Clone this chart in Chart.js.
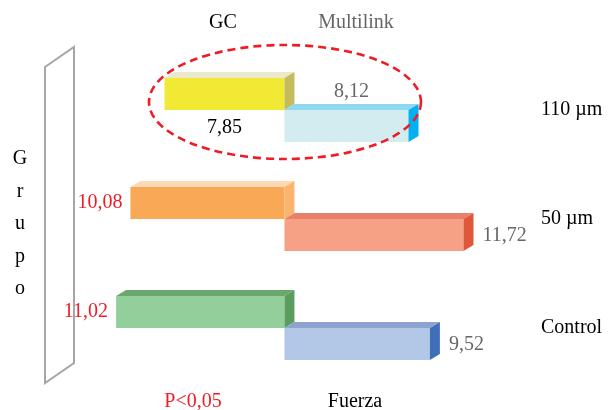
<!DOCTYPE html>
<html>
<head>
<meta charset="utf-8">
<script src="https://cdn.jsdelivr.net/npm/chart.js@4.4.1/dist/chart.umd.min.js"></script>
<style>
  html, body { margin: 0; padding: 0; background: #fff; }
  #wrap { position: relative; width: 609px; height: 410px; }
</style>
</head>
<body>
<div id="wrap"><canvas id="chart"></canvas></div>
<script>
const categories = ['110 µm', '50 µm', 'Control']
const seriesNames = ['GC', 'Multilink']
const gcValues = [7.85, 10.08, 11.02]
const multilinkValues = [8.12, 11.72, 9.52]
const gcLabels = ['7,85', '10,08', '11,02']
const multilinkLabels = ['8,12', '11,72', '9,52']
const axisTitle = 'Fuerza'
const groupTitle = 'Grupo'
const note = 'P<0,05'

// face colours per category: front, top, side
const gcColors = {
  front: ['#f2e935', '#f9a856', '#92cf9b'],
  top: ['#ece8cc', '#fdd9b5', '#6aa86e'],
  side: ['#c3bc5a', '#fbb46c', '#5a9e5e'],
}
const multilinkColors = {
  front: ['#d2ecf0', '#f6a085', '#b3c7e7'],
  top: ['#8fd8f3', '#e8806a', '#8ea2d0'],
  side: ['#00b0f0', '#e0573a', '#3f6fb8'],
}

const FONT = '"Liberation Serif", "Times New Roman", serif'
const RED = '#ee1c25'
const GRAY = '#666666'
const DX = 10
const DY = 6

const bar3d = {
  id: 'bar3d',
  afterDatasetsDraw(chart) {
    const ctx = chart.ctx
    chart.data.datasets.forEach((ds, di) => {
      const meta = chart.getDatasetMeta(di)
      meta.data.forEach((el, i) => {
        const { x, y, base, height } = el.getProps(['x', 'y', 'base', 'height'], true)
        const left = Math.min(x, base)
        const right = Math.max(x, base)
        const top = y - height / 2
        const bottom = y + height / 2
        ctx.save()
        ctx.fillStyle = ds.topColor[i]
        ctx.beginPath()
        ctx.moveTo(left, top)
        ctx.lineTo(left + DX, top - DY)
        ctx.lineTo(right + DX, top - DY)
        ctx.lineTo(right, top)
        ctx.closePath()
        ctx.fill()
        ctx.fillStyle = ds.sideColor[i]
        ctx.beginPath()
        ctx.moveTo(right, top)
        ctx.lineTo(right + DX, top - DY)
        ctx.lineTo(right + DX, bottom - DY)
        ctx.lineTo(right, bottom)
        ctx.closePath()
        ctx.fill()
        ctx.restore()
      })
    })
  },
}

const valueLabels = {
  id: 'valueLabels',
  afterDraw(chart) {
    const ctx = chart.ctx
    ctx.save()
    ctx.font = '20px ' + FONT
    ctx.textBaseline = 'middle'
    chart.data.datasets.forEach((ds, di) => {
      const meta = chart.getDatasetMeta(di)
      meta.data.forEach((el, i) => {
        const { x, y, base, height } = el.getProps(['x', 'y', 'base', 'height'], true)
        const text = ds.valueText[i]
        if (i === 0) {
          // first group: labels sit below / above the bars
          ctx.textAlign = 'center'
          const cx = (Math.min(x, base) + Math.max(x, base) + (di === 1 ? DX : 0)) / 2
          ctx.fillStyle = di === 0 ? '#000' : GRAY
          ctx.fillText(text, cx, di === 0 ? y + height / 2 + 18 : y - height / 2 - 18)
        } else if (di === 0) {
          ctx.textAlign = 'right'
          ctx.fillStyle = RED
          ctx.fillText(text, x - 8, y)
        } else {
          ctx.textAlign = 'left'
          ctx.fillStyle = GRAY
          ctx.fillText(text, x + DX + 9, y + 1)
        }
      })
    })
    ctx.restore()
  },
}

const decorations = {
  id: 'decorations',
  beforeDatasetsDraw(chart) {
    const ctx = chart.ctx
    ctx.save()
    // slanted frame around the group title
    ctx.strokeStyle = '#a6a6a6'
    ctx.lineWidth = 2
    ctx.beginPath()
    ctx.moveTo(45, 67)
    ctx.lineTo(74, 47)
    ctx.lineTo(74, 363)
    ctx.lineTo(45, 383)
    ctx.closePath()
    ctx.stroke()
    ctx.restore()
  },
  afterDraw(chart) {
    const ctx = chart.ctx
    ctx.save()
    ctx.font = '20px ' + FONT
    ctx.textBaseline = 'middle'
    ctx.textAlign = 'center'
    ctx.fillStyle = '#000'
    ctx.fillText(seriesNames[0], 223, 23)
    ctx.fillStyle = GRAY
    ctx.fillText(seriesNames[1], 356, 23)
    ctx.fillStyle = '#000'
    groupTitle.split('').forEach((ch, k) => {
      ctx.fillText(ch, 20, 159 + k * 32.5)
    })
    ctx.fillText(axisTitle, 355, 402)
    ctx.fillStyle = RED
    ctx.fillText(note, 193, 402)

    // dashed ellipse highlighting the first group
    ctx.strokeStyle = RED
    ctx.lineWidth = 2.6
    ctx.setLineDash([8, 5])
    ctx.beginPath()
    ctx.ellipse(285, 102, 136, 57, 0, 0, Math.PI * 2)
    ctx.stroke()
    ctx.restore()
  },
}

new Chart(document.getElementById('chart'), {
  type: 'bar',
  data: {
    labels: categories,
    datasets: [
      {
        label: seriesNames[0],
        data: gcValues.map(v => -v),
        backgroundColor: gcColors.front,
        topColor: gcColors.top,
        sideColor: gcColors.side,
        valueText: gcLabels,
      },
      {
        label: seriesNames[1],
        data: multilinkValues,
        backgroundColor: multilinkColors.front,
        topColor: multilinkColors.top,
        sideColor: multilinkColors.side,
        valueText: multilinkLabels,
      },
    ],
  },
  options: {
    indexAxis: 'y',
    responsive: true,
    maintainAspectRatio: false,
    animation: false,
    borderWidth: 0,
    categoryPercentage: 0.587,
    barPercentage: 1,
    layout: {
      padding: { left: 40, right: 0, top: 55.5, bottom: 27.5 },
    },
    plugins: {
      legend: { display: false },
      tooltip: { enabled: false },
    },
    scales: {
      x: {
        display: false,
        min: -16,
        max: 16.4,
      },
      y: {
        position: 'right',
        grid: { display: false, drawTicks: false },
        border: { display: false },
        afterFit(scale) {
          scale.width = 74
        },
        ticks: {
          padding: 6,
          color: '#000',
          font: { family: FONT, size: 20 },
        },
      },
    },
  },
  plugins: [decorations, bar3d, valueLabels],
})
</script>
</body>
</html>
